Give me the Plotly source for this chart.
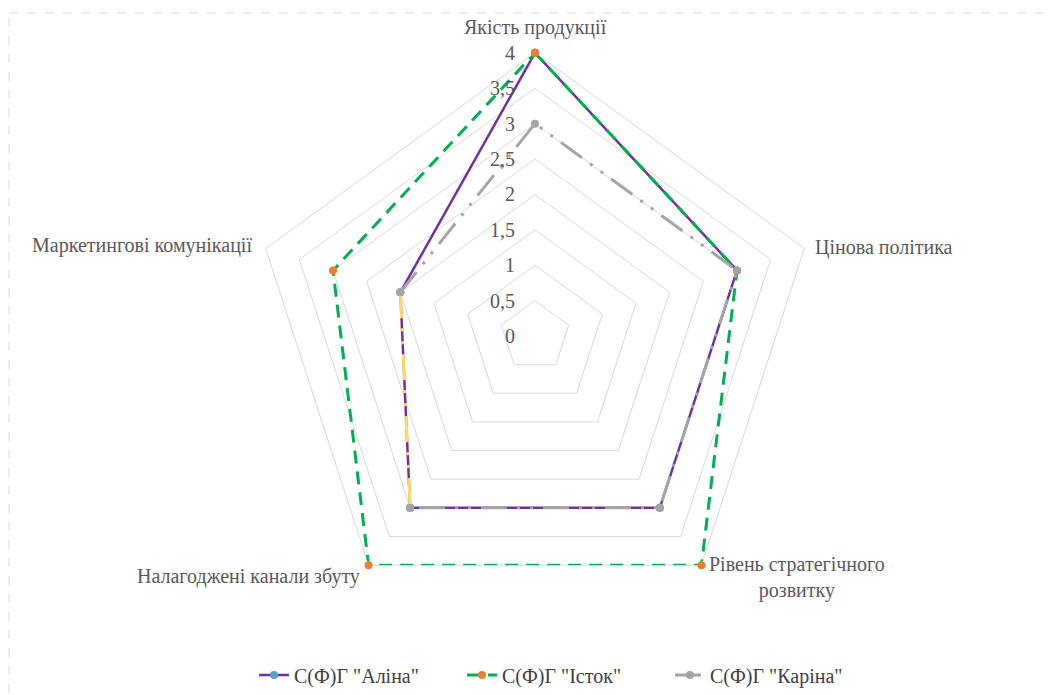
import plotly.graph_objects as go

# Categories (clockwise from the top)
categories = [
    "Якість продукції",
    "Цінова політика",
    "Рівень стратегічного розвитку",
    "Налагоджені канали збуту",
    "Маркетингові комунікації",
]

# Scores per enterprise
alina = [4, 3, 3, 3, 2]
istok = [4, 3, 4, 4, 3]
karina = [3, 3, 3, 3, 2]

series_names = ['С(Ф)Г "Аліна"', 'С(Ф)Г "Істок"', 'С(Ф)Г "Каріна"']

radial_ticks = [0, 0.5, 1, 1.5, 2, 2.5, 3, 3.5, 4]
radial_labels = ["0", "0,5", "1", "1,5", "2", "2,5", "3", "3,5", "4"]

FONT = "Liberation Serif"
GRID = "#d9d9d9"
TXT = "#595959"
FS = 20

fig = go.Figure()


def closed(vals):
    return vals + vals[:1]


cats_closed = closed(categories)

# С(Ф)Г "Аліна" — purple solid line, blue markers
fig.add_trace(go.Scatterpolar(
    r=closed(alina), theta=cats_closed, name=series_names[0],
    mode="lines+markers",
    line=dict(color="#7030a0", width=2.5),
    marker=dict(color="#5b9bd5", size=8),
))

# С(Ф)Г "Істок" — green dashed line, orange markers
fig.add_trace(go.Scatterpolar(
    r=closed(istok), theta=cats_closed, name=series_names[1],
    mode="lines+markers",
    line=dict(color="#00b050", width=3, dash="13px,8px"),
    marker=dict(color="#ed7d31", size=8),
))

# С(Ф)Г "Каріна" — grey long-dash-dot-dot; the segment from
# "Маркетингові комунікації" to "Налагоджені канали збуту" is yellow
karina_dash = "26px,10px,3px,10px,3px,10px"
grey_idx = [4, 0, 1, 2, 3]
fig.add_trace(go.Scatterpolar(
    r=[karina[i] for i in grey_idx], theta=[categories[i] for i in grey_idx],
    name=series_names[2], mode="lines+markers",
    line=dict(color="#a5a5a5", width=3, dash=karina_dash),
    marker=dict(color="#a5a5a5", size=8),
    legendgroup="karina",
))
fig.add_trace(go.Scatterpolar(
    r=[karina[4], karina[3]], theta=[categories[4], categories[3]],
    name=series_names[2], mode="lines+markers", showlegend=False,
    line=dict(color="#ffd966", width=3, dash=karina_dash),
    marker=dict(color="#a5a5a5", size=8),
    legendgroup="karina",
))

W, H = 1051, 695
cx, cy, R = 535, 337, 284
RMAX = 4


def px(x):
    return x / W


def py(y):
    return 1 - y / H


annotations = []

# category labels around the pentagon
cat_labels = [
    dict(text=categories[0], x=px(535), y=py(28), xanchor="center", yanchor="middle", align="center"),
    dict(text=categories[1], x=px(813), y=py(248), xanchor="left", yanchor="middle", align="left"),
    dict(text="Рівень стратегічного<br>розвитку", x=px(707), y=py(579), xanchor="left", yanchor="middle", align="center"),
    dict(text=categories[3], x=px(362), y=py(578), xanchor="right", yanchor="middle", align="right"),
    dict(text=categories[4], x=px(254), y=py(246), xanchor="right", yanchor="middle", align="right"),
]
for a in cat_labels:
    annotations.append(dict(xref="paper", yref="paper", showarrow=False,
                            font=dict(family=FONT, size=FS, color=TXT), **a))

# radial scale labels, set just left of the vertical axis
for v, t in zip(radial_ticks, radial_labels):
    annotations.append(dict(
        xref="paper", yref="paper", showarrow=False, text=t,
        x=px(cx - 18), y=py(cy - R * v / RMAX), xanchor="right", yanchor="middle",
        font=dict(family=FONT, size=FS, color=TXT),
    ))

fig.update_layout(
    width=W, height=H,
    margin=dict(l=0, r=0, t=0, b=0),
    paper_bgcolor="white",
    font=dict(family=FONT, size=FS, color=TXT),
    polar=dict(
        domain=dict(x=[(cx - R) / W, (cx + R) / W],
                    y=[1 - (cy + R) / H, 1 - (cy - R) / H]),
        gridshape="linear",
        bgcolor="white",
        radialaxis=dict(
            range=[0, RMAX], tickvals=radial_ticks, showticklabels=False,
            angle=90, showline=False, ticks="", gridcolor=GRID, gridwidth=1,
            layer="below traces",
        ),
        angularaxis=dict(
            type="category", categoryarray=categories,
            rotation=90, direction="clockwise", showticklabels=False,
            showgrid=False, linecolor=GRID, linewidth=1, ticks="",
            layer="below traces",
        ),
    ),
    legend=dict(
        orientation="h", x=px(254), xanchor="left", y=py(677),
        yanchor="middle", font=dict(family=FONT, size=FS, color="#404040"),
        bgcolor="rgba(0,0,0,0)", entrywidth=163, entrywidthmode="pixels",
    ),
    annotations=annotations,
    shapes=[
        dict(type="line", xref="paper", yref="paper", x0=px(9), x1=1,
             y0=py(13), y1=py(13),
             line=dict(color=GRID, width=1, dash="dash")),
        dict(type="line", xref="paper", yref="paper", x0=px(9), x1=px(9),
             y0=0, y1=py(13),
             line=dict(color=GRID, width=1, dash="dash")),
    ],
)

fig.write_html("out.html")
